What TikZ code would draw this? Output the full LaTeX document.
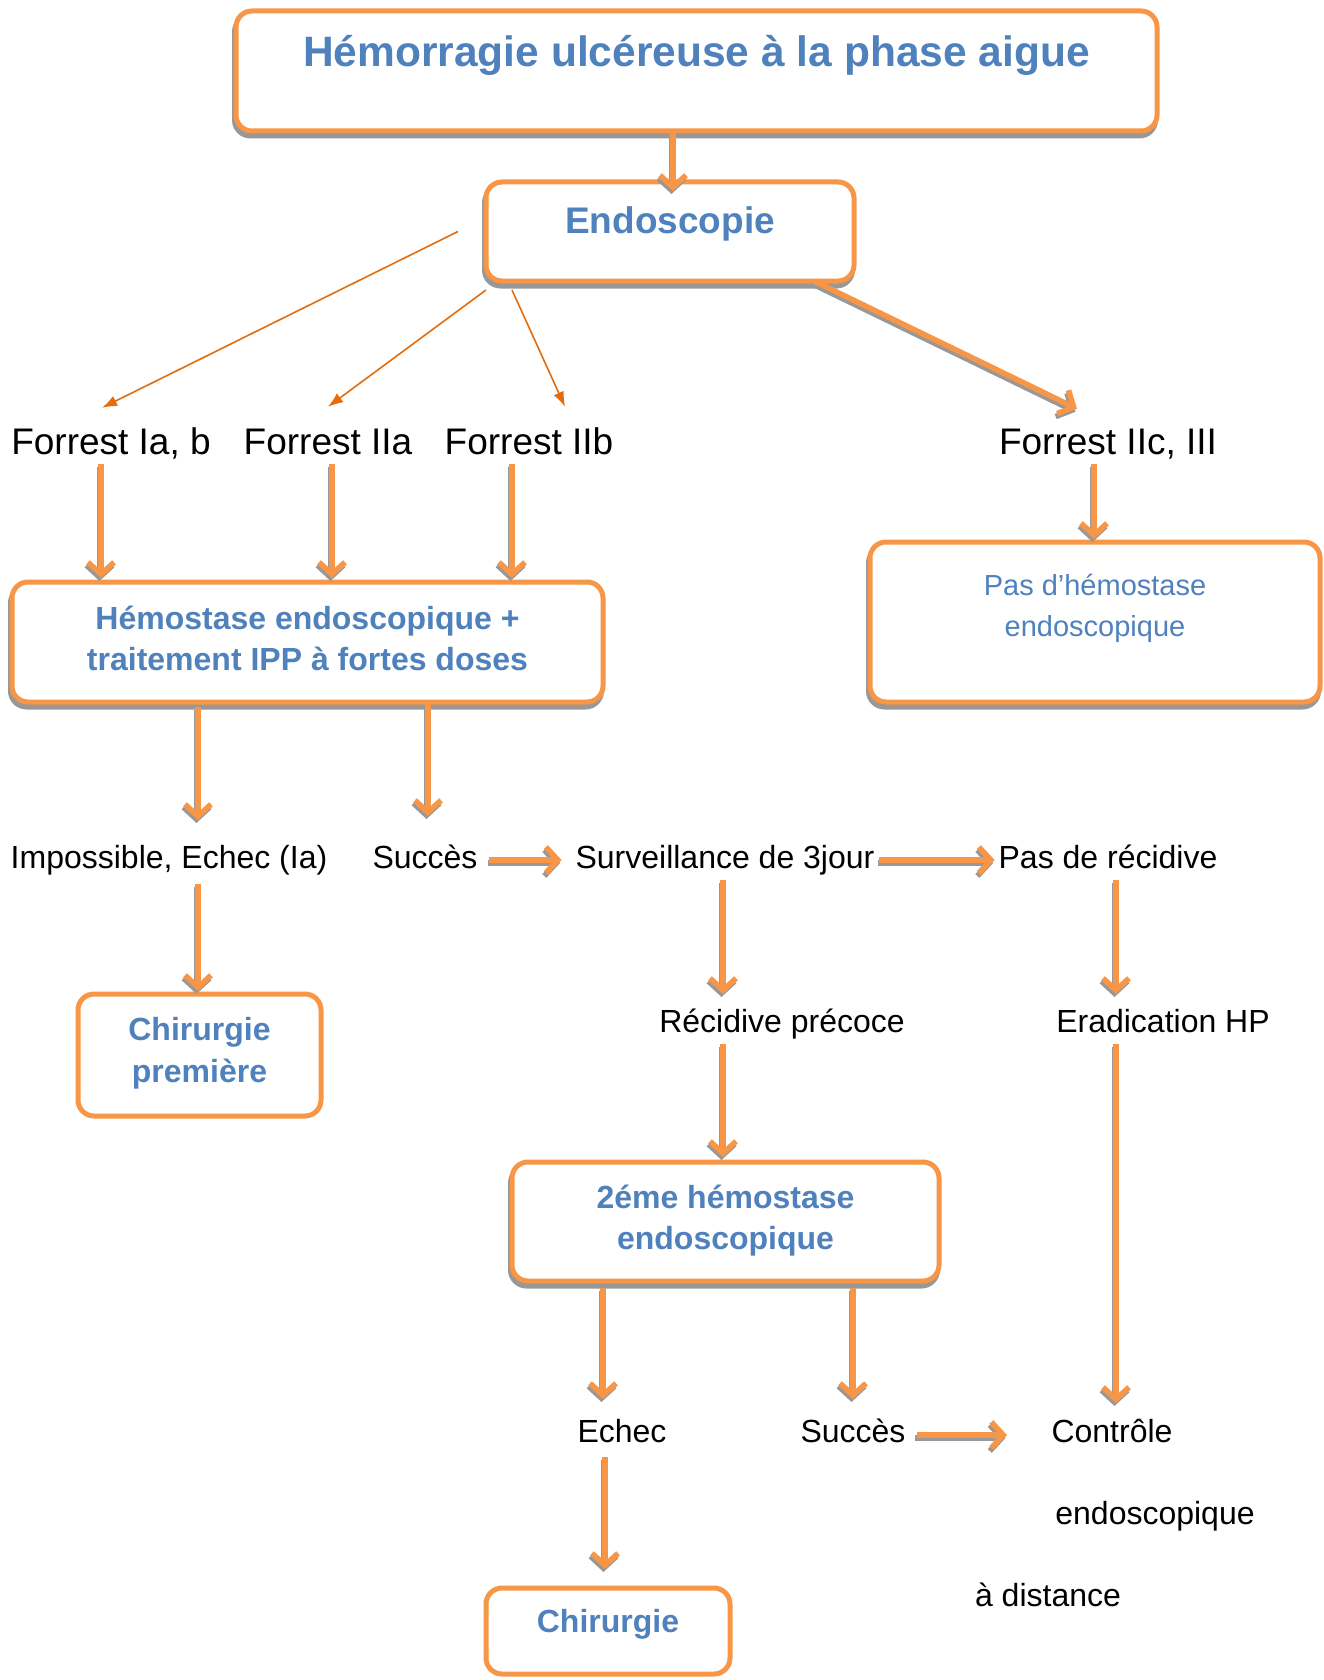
\documentclass[tikz,border=0pt]{standalone}
\usepackage{fontspec}
\setmainfont{Liberation Sans}
\usetikzlibrary{arrows.meta}
\definecolor{obord}{HTML}{F79646}
\definecolor{tblue}{HTML}{4F81BD}
\definecolor{dkor}{HTML}{E46C0A}
\definecolor{shgray}{HTML}{989898}
\newcommand\bxt[2]{\raisebox{#1}[0pt][0pt]{\begin{tabular}[t]{@{}c@{}}#2\end{tabular}}}
\begin{document}
\begin{tikzpicture}[x=1pt,y=-1pt,
  box/.style={draw=obord, line width=5pt, fill=white, rounded corners=16pt,
    inner sep=0pt, outer sep=0pt, text=tblue},
  sbox/.style={box, preaction={draw=shgray, fill=shgray, line width=5pt,
    transform canvas={xshift=-1.5pt,yshift=-5pt}}},
  bf32/.style={font=\fontsize{32}{41}\selectfont\bfseries},
  lbl/.style={font=\fontsize{32}{38}\selectfont, inner sep=0pt, outer sep=0pt,
    text height=23pt, text depth=0pt},
  flbl/.style={font=\fontsize{37}{44}\selectfont, inner sep=0pt, outer sep=0pt,
    text height=26.5pt, text depth=0pt},
  oarr/.style={draw=obord, line width=5.5pt, -{Straight Barb[length=12pt,width=26pt]},
    preaction={draw=shgray, line width=5.5pt, -{Straight Barb[length=12pt,width=26pt]},
      transform canvas={xshift=-1.5pt,yshift=-3pt}}},
  tarr/.style={draw=dkor, line width=1.6pt, -{Latex[length=15pt,width=11pt]}},
]
\fill[white] (0,0) rectangle (1324,1680);
\useasboundingbox (0,0) rectangle (1324,1680);

% boxes
\node[sbox, minimum width=921pt, minimum height=120pt,
  font=\fontsize{42.5}{51}\selectfont\bfseries] (title) at (696.5,71)
  {\bxt{4.8pt}{Hémorragie ulcéreuse à la phase aigue}};
\node[sbox, minimum width=368pt, minimum height=99pt,
  font=\fontsize{37}{44}\selectfont\bfseries] (endo) at (670,231.5)
  {\bxt{-1.75pt}{Endoscopie}};
\node[sbox, bf32, minimum width=591pt, minimum height=120pt] (hem) at (307.5,642)
  {\bxt{12.55pt}{Hémostase endoscopique +\\traitement IPP à fortes doses}};
\node[sbox, minimum width=450pt, minimum height=160pt,
  font=\fontsize{29}{41}\selectfont] (pas) at (1095,622)
  {\bxt{26.6pt}{Pas d’hémostase\\endoscopique}};
\node[box, minimum width=243pt, minimum height=122pt,
  font=\fontsize{32}{42}\selectfont\bfseries] (chir1) at (199.5,1055)
  {\bxt{14.55pt}{Chirurgie\\première}};
\node[sbox, bf32, minimum width=427pt, minimum height=119pt] (deux) at (725.5,1221.5)
  {\bxt{13.05pt}{2éme hémostase\\endoscopique}};
\node[box, bf32, minimum width=244pt, minimum height=86pt] (chir) at (608,1631)
  {\bxt{-1.45pt}{Chirurgie}};

% labels
\node[flbl] (fia) at (111,441) {Forrest Ia, b};
\node[flbl] (fiia) at (328,441) {Forrest IIa};
\node[flbl] (fiib) at (529,441) {Forrest IIb};
\node[flbl] (fiic) at (1108,441) {Forrest IIc, III};
\node[lbl] (imp) at (169,857) {Impossible, Echec (Ia)};
\node[lbl] (succ) at (425,857) {Succès};
\node[lbl] (surv) at (725,857) {Surveillance de 3jour};
\node[lbl] (pdr) at (1108,857) {Pas de récidive};
\node[lbl] (rec) at (782,1021) {Récidive précoce};
\node[lbl] (erad) at (1163,1021) {Eradication HP};
\node[lbl] (echec) at (622,1431) {Echec};
\node[lbl] (succ2) at (853,1431) {Succès};
\node[lbl] (ctrl) at (1112,1431) {Contrôle};
\node[lbl] (ctrl2) at (1155,1513) {endoscopique};
\node[lbl] (ctrl3) at (1048,1595) {à distance};

% connectors
\draw[oarr, shorten >=-9pt] (673,0 |- title.south) -- (673,0 |- endo.north);
\draw[tarr] ([xshift=-28pt]endo.west) -- ([xshift=-9pt,yshift=20pt]fia.north);
\draw[tarr] ([yshift=-9pt]endo.south west) -- ([yshift=21pt]fiia.north);
\draw[tarr] ([xshift=26pt,yshift=-9pt]endo.south west) -- ([xshift=36pt,yshift=21pt]fiib.north);
\draw[oarr] ([xshift=-40pt]endo.south east) -- ([xshift=-31pt,yshift=19pt]fiic.north);

\draw[oarr, shorten <=10pt, shorten >=4pt] (101,0 |- fia.south) -- (101,0 |- hem.north);
\draw[oarr, shorten <=10pt, shorten >=4pt] (332,0 |- fiia.south) -- (332,0 |- hem.north);
\draw[oarr, shorten <=10pt, shorten >=4pt] (512,0 |- fiib.south) -- (512,0 |- hem.north);
\draw[oarr, shorten <=10pt, shorten >=3pt] (1094,0 |- fiic.south) -- (1094,0 |- pas.north);

\draw[oarr, shorten <=5pt, shorten >=25.5pt] (198,0 |- hem.south) -- (198,0 |- imp.north);
\draw[oarr, shorten <=2pt, shorten >=29.5pt] (428,0 |- hem.south) -- (428,0 |- succ.north);
\draw[oarr, shorten <=12pt, shorten >=14pt] ([yshift=-3pt]succ.east) -- ([yshift=-3pt]surv.west);
\draw[oarr, shorten <=5pt, shorten >=4pt] ([yshift=-3pt]surv.east) -- ([yshift=-3pt]pdr.west);

\draw[oarr, shorten <=15.5pt, shorten >=3pt] (198,0 |- imp.south) -- (198,0 |- chir1.north);
\draw[oarr, shorten <=11.5pt, shorten >=15.5pt] (723,0 |- surv.south) -- (723,0 |- rec.north);
\draw[oarr, shorten <=11.5pt, shorten >=15.5pt] (1116,0 |- pdr.south) -- (1116,0 |- erad.north);
\draw[oarr, shorten <=11.5pt, shorten >=5pt] (723,0 |- rec.south) -- (723,0 |- deux.north);
\draw[oarr, shorten <=11.5pt, shorten >=16.5pt] (1116,0 |- erad.south) -- (1116,0 |- ctrl.north);

\draw[oarr, shorten <=7pt, shorten >=20.5pt] (603,0 |- deux.south) -- (603,0 |- echec.north);
\draw[oarr, shorten <=7pt, shorten >=20.5pt] (853,0 |- deux.south) -- (853,0 |- succ2.north);
\draw[oarr, shorten <=11.5pt, shorten >=44.5pt] ([yshift=-4pt]succ2.east) -- ([yshift=-4pt]ctrl.west);
\draw[oarr, shorten <=14.5pt, shorten >=19pt] (605,0 |- echec.south) -- (605,0 |- chir.north);
\end{tikzpicture}
\end{document}
